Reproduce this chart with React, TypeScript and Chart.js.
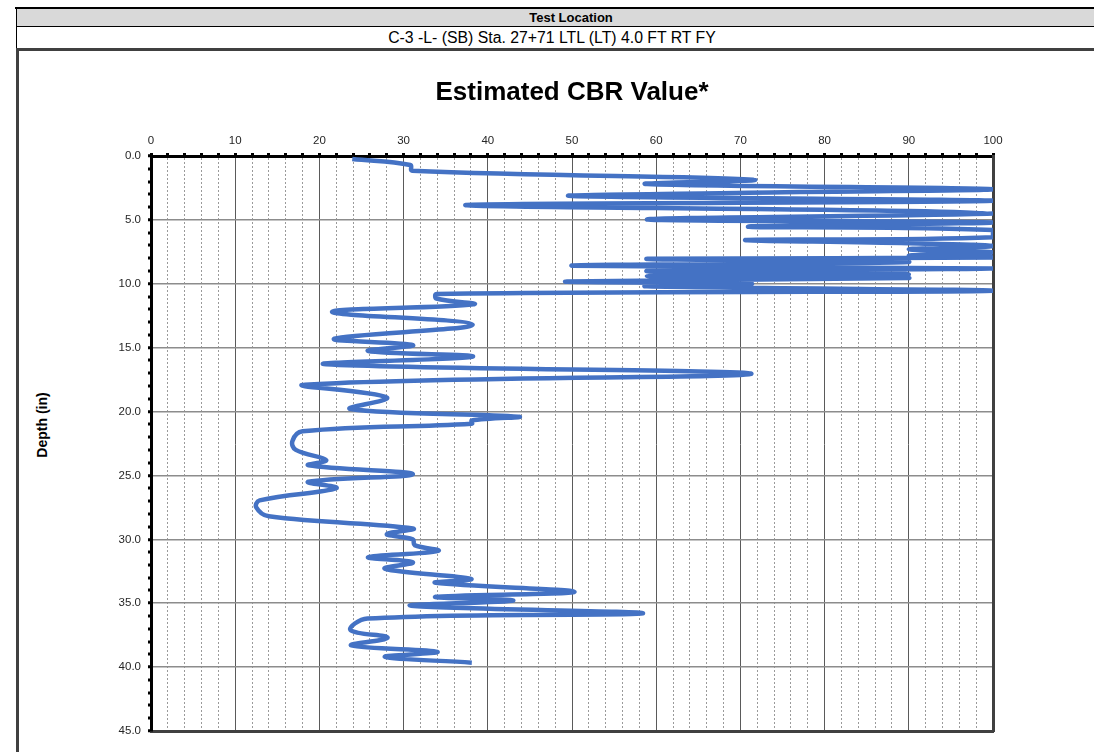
import React, { useEffect, useRef } from "react";
import { Chart, registerables } from "chart.js";

Chart.register(...registerables);

// ---- Data ----
const chartTitle = "Estimated CBR Value*";
const yAxisTitle = "Depth (in)";
const headerTitle = "Test Location";
const headerLocation = "C-3 -L- (SB) Sta. 27+71 LTL (LT) 4.0 FT RT FY";

const cbrValues = [
  23.9, 30.8, 31.0, 71.5, 58.9, 100, 70.9, 50.0, 100, 37.4,
  89.9, 100, 58.9, 100, 70.9, 100, 100, 70.7, 90.0, 100,
  90.0, 100, 90.0, 100, 58.9, 90.0, 50.0, 100, 58.9, 90.0,
  58.9, 90.0, 49.4, 71.3, 58.9, 100, 33.9, 33.9, 38.3, 21.5,
  38.2, 21.8, 31.1, 25.8, 38.2, 20.8, 71.3, 18.3, 28.0, 23.7,
  43.6, 38.1, 38.1, 18.0, 16.8, 17.2, 20.8, 18.7, 31.1, 18.7,
  22.0, 12.9, 12.5, 14.0, 31.1, 28.0, 31.1, 31.3, 34.1, 25.8,
  31.1, 27.8, 38.0, 33.8, 50.3, 33.8, 43.0, 30.9, 58.4, 25.7,
  23.7, 28.1, 23.8, 34.0, 27.8, 38.1,
];

const depthValues = [
  0.23, 0.7, 1.15, 1.85, 2.19, 2.6, 2.87, 3.13, 3.5, 3.83,
  4.3, 4.5, 4.96, 5.2, 5.53, 5.8, 6.36, 6.57, 6.83, 7.05,
  7.3, 7.55, 7.8, 7.95, 8.05, 8.3, 8.58, 8.8, 9.0, 9.25,
  9.4, 9.55, 9.83, 10.0, 10.2, 10.54, 10.8, 11.15, 11.6, 12.2,
  13.2, 14.3, 14.8, 15.26, 15.7, 16.3, 17.05, 17.9, 18.9, 19.8,
  20.4, 20.7, 20.96, 21.55, 22.3, 23.0, 23.8, 24.2, 24.9, 25.5,
  26.0, 26.95, 27.5, 28.2, 29.15, 29.6, 30.0, 30.45, 30.9, 31.4,
  31.8, 32.3, 33.1, 33.4, 34.1, 34.5, 34.8, 35.2, 35.8, 36.2,
  37.1, 37.7, 38.3, 38.8, 39.2, 39.65,
];

const xMin = 0;
const xMax = 100;
const xStep = 2;
const xLabelEvery = 10;
const yMin = 0;
const yMax = 45;
const yStep = 1;
const yLabelEvery = 5;

const FONT = "'Liberation Sans', Arial, sans-serif";

export default function App() {
  const canvasRef = useRef<HTMLCanvasElement | null>(null);

  useEffect(() => {
    const canvas = canvasRef.current;
    if (!canvas) return;
    const points = cbrValues.map((v, i) => ({ x: v, y: depthValues[i] }));

    const chart = new Chart(canvas, {
      type: "scatter",
      data: {
        datasets: [
          {
            label: "CBR",
            data: points,
            showLine: true,
            borderColor: "#4472C4",
            backgroundColor: "#4472C4",
            borderWidth: 4.5,
            pointRadius: 0,
            pointHoverRadius: 0,
            tension: 0.4,
            xAxisID: "x",
            yAxisID: "y",
          },
        ],
      },
      options: {
        responsive: false,
        animation: false,
        events: [],
        layout: { padding: { left: 10, top: 0, right: 0, bottom: 0 } },
        plugins: {
          legend: { display: false },
          tooltip: { enabled: false },
          title: {
            display: true,
            text: chartTitle,
            color: "#000000",
            font: { family: FONT, size: 26, weight: "bold" },
            padding: { top: 26, bottom: 8 },
          },
        },
        scales: {
          x: {
            type: "linear",
            position: "top",
            min: xMin,
            max: xMax,
            afterFit: (s: any) => {
              s.height = 39.8;
            },
            ticks: {
              stepSize: xStep,
              autoSkip: false,
              maxTicksLimit: 500,
              maxRotation: 0,
              minRotation: 0,
              padding: 5,
              color: "#262626",
              font: { family: FONT, size: 11.5 },
              callback: (v: any) => (Number(v) % xLabelEvery === 0 ? String(v) : ""),
            },
            grid: {
              drawTicks: true,
              tickLength: 3,
              tickWidth: 3,
              tickColor: "#000000",
              color: (ctx: any) =>
                ctx.tick && ctx.tick.value % xLabelEvery === 0 ? "#5a5a5a" : "#9a9a9a",
              lineWidth: 1,
            },
            border: {
              display: true,
              color: "#000000",
              width: 3,
              dash: (ctx: any) =>
                ctx.type === "tick" && ctx.tick && ctx.tick.value % xLabelEvery !== 0 ? [2, 2] : [],
            },
          },
          x2: {
            type: "linear",
            position: "bottom",
            min: xMin,
            max: xMax,
            afterFit: (s: any) => {
              s.height = 21;
            },
            ticks: { display: false },
            grid: { display: false, drawTicks: false },
            border: { display: true, color: "#404040", width: 3 },
          },
          y: {
            type: "linear",
            position: "left",
            reverse: true,
            min: yMin,
            max: yMax,
            afterFit: (s: any) => {
              s.width = 122;
            },
            ticks: {
              stepSize: yStep,
              autoSkip: false,
              maxTicksLimit: 500,
              padding: 7,
              color: "#262626",
              font: { family: FONT, size: 11.5 },
              callback: (v: any) =>
                Number(v) % yLabelEvery === 0 ? Number(v).toFixed(1) : "",
            },
            grid: {
              drawTicks: true,
              tickLength: 3,
              tickWidth: 3,
              tickColor: "#000000",
              color: (ctx: any) =>
                ctx.tick && ctx.tick.value % yLabelEvery === 0 ? "#8c8c8c" : "rgba(0,0,0,0)",
              lineWidth: (ctx: any) =>
                ctx.tick && ctx.tick.value % yLabelEvery === 0 ? 1.5 : 0,
            },
            border: { display: true, color: "#000000", width: 3 },
          },
          y2: {
            type: "linear",
            position: "right",
            reverse: true,
            min: yMin,
            max: yMax,
            afterFit: (s: any) => {
              s.width = 122;
            },
            ticks: { display: false },
            grid: { display: false, drawTicks: false },
            border: { display: true, color: "#404040", width: 3 },
          },
        },
      },
    });
    return () => chart.destroy();
  }, []);

  return (
    <div
      style={{
        position: "fixed",
        left: 0,
        top: 0,
        width: 1094,
        height: 752,
        overflow: "hidden",
        background: "#ffffff",
      }}
    >
      {/* top rule */}
      <div style={{ position: "absolute", left: 15, top: 7, width: 1100, height: 2, background: "#000" }} />
      {/* header grey row */}
      <div
        style={{
          position: "absolute",
          left: 16,
          top: 9,
          width: 1100,
          height: 18,
          background: "#d9d9d9",
          borderLeft: "1px solid #000",
          borderBottom: "1px solid #000",
          boxSizing: "border-box",
        }}
      />
      <div
        style={{
          position: "absolute",
          left: 471,
          top: 9,
          width: 200,
          height: 18,
          lineHeight: "18px",
          textAlign: "center",
          fontFamily: FONT,
          fontWeight: "bold",
          fontSize: 13,
          color: "#000",
        }}
      >
        {headerTitle}
      </div>
      {/* header white row */}
      <div
        style={{
          position: "absolute",
          left: 16,
          top: 27,
          width: 1100,
          height: 21,
          borderLeft: "1px solid #000",
          boxSizing: "border-box",
        }}
      />
      <div
        style={{
          position: "absolute",
          left: 252,
          top: 28,
          width: 600,
          height: 20,
          lineHeight: "20px",
          textAlign: "center",
          fontFamily: FONT,
          fontSize: 15.8,
          color: "#000",
          whiteSpace: "nowrap",
        }}
      >
        {headerLocation}
      </div>
      {/* thick rule under header */}
      <div style={{ position: "absolute", left: 16, top: 48, width: 1100, height: 3, background: "#404040" }} />
      {/* left frame */}
      <div style={{ position: "absolute", left: 16, top: 48, width: 3, height: 710, background: "#404040" }} />
      {/* y axis title */}
      <div
        style={{
          position: "absolute",
          left: 42 - 60,
          top: 425 - 10,
          width: 120,
          height: 20,
          lineHeight: "20px",
          textAlign: "center",
          transform: "rotate(-90deg)",
          transformOrigin: "50% 50%",
          fontFamily: FONT,
          fontWeight: "bold",
          fontSize: 14,
          color: "#000",
          whiteSpace: "nowrap",
        }}
      >
        {yAxisTitle}
      </div>
      <canvas
        ref={canvasRef}
        width={1096}
        height={701}
        style={{ position: "absolute", left: 19, top: 51, width: 1096, height: 701 }}
      />
    </div>
  );
}
